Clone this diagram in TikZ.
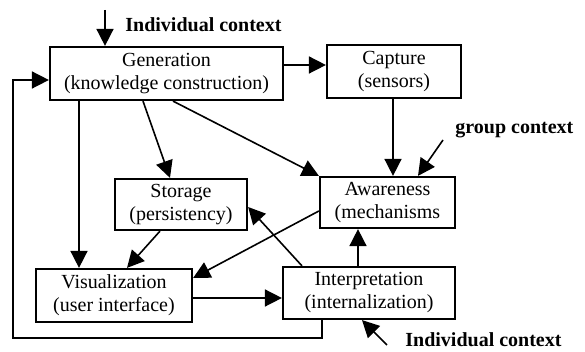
\documentclass[tikz,border=0pt]{standalone}
\usepackage{fontspec}
\setmainfont{Liberation Serif}
\usetikzlibrary{arrows.meta, calc}

\begin{document}
\begin{tikzpicture}[
        x=0.5pt, y=-0.5pt,
        my-box/.style={
            draw,
            line width=1.1pt,
            align=center,
            inner sep=0pt,
            font=\fontsize{10}{11.5}\selectfont,
        },
        my-arrow/.style={
            -{Triangle[length=8.5pt, width=8.5pt]},
            line width=0.8pt,
        },
        my-context/.style={
            anchor=west,
            inner sep=0pt,
            font=\bfseries\fontsize{10}{12}\selectfont,
        },
    ]
    \useasboundingbox (0, 0) rectangle (585, 352);

    \node[my-box, minimum width=116.5pt, minimum height=26.5pt] (generation) at (166.5, 73.5) {Generation\\(knowledge construction)};
    \node[my-box, minimum width=67pt, minimum height=26.5pt] (capture) at (394, 71.5) {Capture\\(sensors)};
    \node[my-box, minimum width=66pt, minimum height=25.5pt] (storage) at (181, 204.5) {Storage\\(persistency)};
    \node[my-box, minimum width=67.5pt, minimum height=25.5pt] (awareness) at (387.5, 202.5) {Awareness\\(mechanisms};
    \node[my-box, minimum width=78pt, minimum height=26.5pt] (visualization) at (114, 295.5) {Visualization\\(user interface)};
    \node[my-box, minimum width=86pt, minimum height=26pt] (interpretation) at (369, 293) {Interpretation\\(internalization)};

    \node[my-context] (individual-top) at (125, 25) {Individual context};
    \node[my-context] (group) at (455, 130) {group context};
    \node[my-context] (individual-bottom) at (405, 340) {Individual context};

    % context inputs
    \coordinate (in-top) at (105, 10);
    \coordinate (in-group) at (443, 140);
    \coordinate (in-bottom) at (387, 345);
    \draw[my-arrow] (in-top) -- (in-top |- generation.north);
    \draw[my-arrow] (in-group) -- ($(awareness.north)+(30.5, 0)$);
    \draw[my-arrow] (in-bottom) -- ($(interpretation.south)+(-7, 0)$);

    % generation outputs
    \coordinate (gen-cap) at ($(generation.east)+(0, -8.5)$);
    \coordinate (gen-vis) at ($(generation.south)+(-87.5, 0)$);
    \draw[my-arrow] (gen-cap) -- (gen-cap -| capture.west);
    \draw[my-arrow] (gen-vis) -- (gen-vis |- visualization.north);
    \draw[my-arrow] ($(generation.south)+(-23.5, 0)$) -- ($(storage.north)+(-11, 0)$);
    \draw[my-arrow] ($(generation.south)+(6.5, 0)$) -- (awareness.north west);

    \coordinate (cap-awa) at ($(capture.south)+(-1, 0)$);
    \draw[my-arrow] (cap-awa) -- (cap-awa |- awareness.north);

    \draw[my-arrow] ($(storage.south)+(-21, 0)$) -- ($(visualization.north)+(13, 0)$);
    \draw[my-arrow] ($(awareness.west)+(0, 8.5)$) -- ($(visualization.east)+(0, -17.5)$);
    \draw[my-arrow] ($(interpretation.north)+(-67, 0)$) -- ($(storage.east)+(0, 2.5)$);

    \coordinate (int-awa) at ($(interpretation.north)+(-11, 0)$);
    \draw[my-arrow] (int-awa) -- (int-awa |- awareness.south);

    \coordinate (vis-int) at ($(visualization.east)+(0, 2.5)$);
    \draw[my-arrow] (vis-int) -- (vis-int -| interpretation.west);

    % feedback loop
    \coordinate (loop-start) at ($(interpretation.south)+(-47, 0)$);
    \coordinate (loop-end) at ($(generation.west)+(0, 6.5)$);
    \draw[my-arrow] (loop-start) -- ++(0, 18) -| (13, 0 |- loop-end) -- (loop-end);
\end{tikzpicture}
\end{document}
